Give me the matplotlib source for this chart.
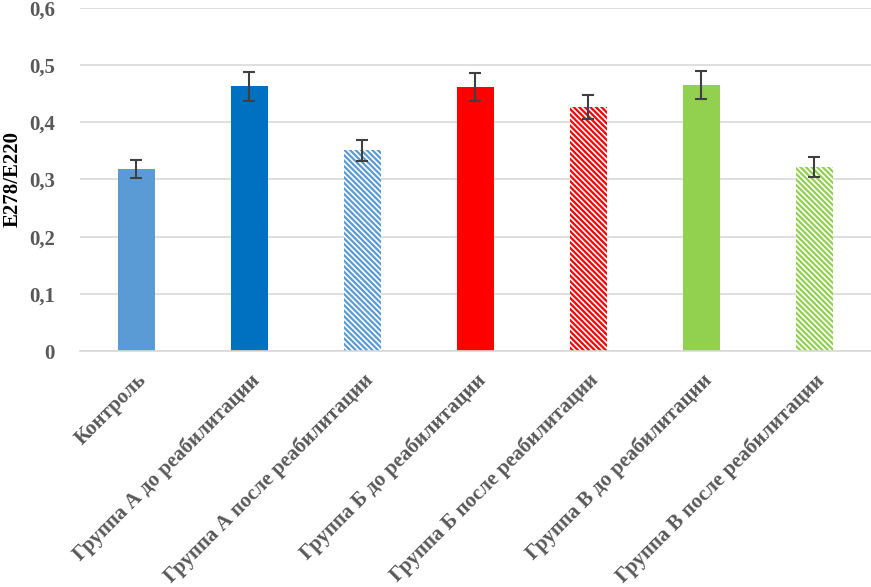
import matplotlib.pyplot as plt
import numpy as np

plt.rcParams['font.family'] = ['Liberation Serif', 'DejaVu Serif']
plt.rcParams['hatch.linewidth'] = 1.6

categories = ["Контроль", "Группа А до реабилитации", "Группа А после реабилитации",
              "Группа Б до реабилитации", "Группа Б после реабилитации",
              "Группа В до реабилитации", "Группа В после реабилитации"]
values = [0.318, 0.463, 0.351, 0.462, 0.427, 0.465, 0.322]
errors = [0.016, 0.025, 0.018, 0.024, 0.021, 0.024, 0.017]
colors = ["#5B9BD5", "#0070C0", "#5B9BD5", "#FF0000", "#FF0000", "#92D050", "#92D050"]
hatched = [False, False, True, False, True, False, True]
yticks = [0, 0.1, 0.2, 0.3, 0.4, 0.5, 0.6]
ytick_labels = ["0", "0,1", "0,2", "0,3", "0,4", "0,5", "0,6"]

fig = plt.figure(figsize=(8.71, 5.87), dpi=100)
ax = fig.add_axes([0.0918, 0.402, 0.9082, 0.5846])

x = np.arange(len(categories))
for i in range(len(categories)):
    if hatched[i]:
        ax.bar(x[i], values[i], width=0.32, facecolor="white", edgecolor=colors[i],
               hatch="\\\\\\\\\\\\", linewidth=0, zorder=2)
    else:
        ax.bar(x[i], values[i], width=0.32, color=colors[i], linewidth=0, zorder=2)
ax.errorbar(x, values, yerr=errors, fmt="none", ecolor="#404040", elinewidth=1.5,
            capsize=4, capthick=1.5, zorder=3)

ax.set_xlim(-0.5, len(categories) - 0.5)
ax.set_ylim(0, 0.6)
ax.set_yticks(yticks)
ax.set_yticklabels(ytick_labels)
ax.yaxis.grid(True, color="#D9D9D9", linewidth=1.2, zorder=0)
ax.set_axisbelow(True)
for s in ["top", "right", "left"]:
    ax.spines[s].set_visible(False)
ax.spines["bottom"].set_color("#D9D9D9")
ax.spines["bottom"].set_linewidth(1.2)
ax.tick_params(length=0, colors="#595959")
for lab in ax.get_yticklabels():
    lab.set_fontsize(15)
    lab.set_fontweight("bold")
ax.tick_params(axis="y", pad=18)

ax.set_xticks(x)
ax.set_xticklabels(categories, rotation=45, ha="right", rotation_mode="anchor",
                   fontsize=15, fontweight="bold", color="#595959")
ax.tick_params(axis="x", pad=14)

ax.set_ylabel("E278/E220", fontsize=15, fontweight="bold", color="#000000")
ax.yaxis.set_label_coords(-0.073, 0.5)

fig.savefig("out.png", dpi=100)
